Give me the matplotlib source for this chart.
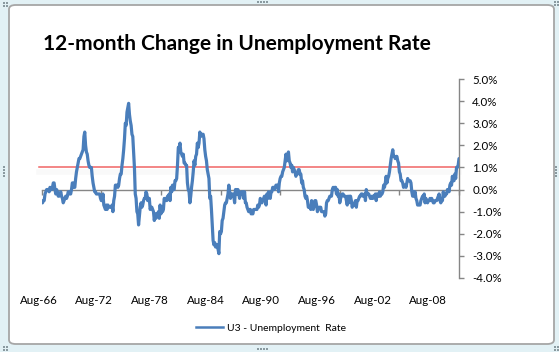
import matplotlib
matplotlib.use("Agg")
import matplotlib.pyplot as plt
import matplotlib.patheffects as pe
import matplotlib.transforms as mtransforms
from matplotlib.patches import FancyBboxPatch, Rectangle
from matplotlib.lines import Line2D
from matplotlib.ticker import FuncFormatter, MultipleLocator, FixedLocator, NullFormatter

# ---------------- data ----------------
title = "12-month Change in Unemployment Rate"
series_name = "U3 - Unemployment  Rate"
x_tick_labels = ["Aug-66", "Aug-72", "Aug-78", "Aug-84", "Aug-90", "Aug-96", "Aug-02", "Aug-08"]
months_per_label = 72          # one label every 6 years of monthly data
reference_level = 1.0          # red horizontal line (%)
y_ticks = [-4.0, -3.0, -2.0, -1.0, 0.0, 1.0, 2.0, 3.0, 4.0, 5.0]

# monthly 12-month change in U3 (percentage points), Aug-1966 .. Aug-2008
change_1966 = [-0.6, -0.6, -0.5, -0.5, -0.2]
change_1967 = [-0.1, 0.0, 0.0, 0.0, -0.1, 0.1, 0.0, 0.0, 0.1, 0.3, 0.3, 0.0]
change_1968 = [-0.2, 0.0, -0.1, -0.3, -0.3, -0.2, -0.1, -0.3, -0.4, -0.6, -0.5, -0.4]
change_1969 = [-0.3, -0.4, -0.3, -0.1, -0.1, -0.2, -0.2, 0.0, 0.3, 0.3, 0.1, 0.1]
change_1970 = [0.5, 0.8, 1.0, 1.2, 1.4, 1.4, 1.5, 1.6, 1.7, 1.8, 2.4, 2.6]
change_1971 = [2.0, 1.7, 1.6, 1.3, 1.1, 1.0, 1.0, 1.0, 0.6, 0.3, 0.1, -0.1]
change_1972 = [-0.1, -0.2, -0.2, -0.2, -0.2, -0.2, -0.4, -0.5, -0.5, -0.2, -0.7, -0.8]
change_1973 = [-0.9, -0.7, -0.9, -0.7, -0.8, -0.8, -0.8, -0.8, -0.7, -1.0, -0.5, -0.3]
change_1974 = [0.2, 0.2, 0.2, 0.1, 0.2, 0.5, 0.7, 0.7, 1.1, 1.4, 1.8, 2.3]
change_1975 = [3.0, 2.9, 3.5, 3.7, 3.9, 3.4, 3.1, 2.9, 2.5, 2.4, 1.7, 1.0]
change_1976 = [-0.2, -0.4, -1.0, -1.1, -1.6, -1.2, -0.8, -0.6, -0.8, -0.7, -0.5, -0.4]
change_1977 = [-0.4, -0.1, -0.2, -0.5, -0.4, -0.4, -0.9, -0.8, -0.8, -0.9, -1.0, -1.4]
change_1978 = [-1.1, -1.3, -1.1, -1.1, -1.0, -1.3, -0.7, -1.1, -0.8, -1.0, -0.9, -0.4]
change_1979 = [-0.5, -0.4, -0.5, -0.3, -0.4, -0.2, -0.5, 0.1, -0.1, 0.2, 0.0, 0.0]
change_1980 = [0.4, 0.4, 0.5, 1.1, 1.9, 1.9, 2.1, 1.7, 1.6, 1.5, 1.6, 1.2]
change_1981 = [1.2, 1.1, 1.1, 0.3, 0.0, -0.1, -0.6, -0.3, 0.1, 0.4, 0.8, 1.3]
change_1982 = [1.1, 1.5, 1.6, 2.1, 1.9, 2.1, 2.6, 2.4, 2.5, 2.5, 2.5, 2.3]
change_1983 = [1.8, 1.5, 1.3, 0.9, 0.7, 0.5, -0.4, -0.3, -0.9, -1.6, -2.3, -2.5]
change_1984 = [-2.4, -2.6, -2.5, -2.5, -2.7, -2.9, -1.9, -2.0, -1.9, -1.4, -1.3, -1.0]
change_1985 = [-0.7, -0.6, -0.6, -0.4, -0.2, 0.2, -0.1, -0.4, -0.2, -0.3, -0.2, -0.3]
change_1986 = [-0.6, 0.0, 0.0, -0.2, 0.0, -0.2, -0.4, -0.2, -0.1, -0.1, -0.1, -0.4]
change_1987 = [-0.1, -0.6, -0.6, -0.8, -0.9, -1.0, -0.9, -0.9, -1.1, -1.0, -1.1, -0.9]
change_1988 = [-0.9, -0.9, -0.9, -0.9, -0.7, -0.8, -0.7, -0.4, -0.5, -0.6, -0.5, -0.4]
change_1989 = [-0.3, -0.5, -0.7, -0.2, -0.4, -0.1, -0.2, -0.4, -0.1, -0.1, 0.1, 0.1]
change_1990 = [0.0, 0.1, 0.2, 0.2, 0.2, -0.1, 0.3, 0.5, 0.6, 0.6, 0.8, 0.9]
change_1991 = [1.0, 1.3, 1.6, 1.3, 1.5, 1.7, 1.3, 1.2, 1.0, 1.1, 0.8, 1.0]
change_1992 = [0.9, 0.8, 0.6, 0.7, 0.7, 0.9, 0.9, 0.7, 0.7, 0.3, 0.4, 0.1]
change_1993 = [0.0, -0.3, -0.4, -0.3, -0.5, -0.8, -0.8, -0.8, -0.9, -0.5, -0.8, -0.9]
change_1994 = [-0.7, -0.5, -0.5, -0.7, -1.0, -0.9, -0.8, -0.8, -0.8, -1.0, -1.0, -1.0]
change_1995 = [-1.0, -1.2, -1.1, -0.6, -0.5, -0.5, -0.4, -0.3, -0.3, -0.3, 0.0, 0.1]
change_1996 = [0.0, 0.1, 0.1, -0.2, 0.0, -0.3, -0.2, -0.6, -0.4, -0.3, -0.2, -0.2]
change_1997 = [-0.3, -0.3, -0.3, -0.5, -0.7, -0.3, -0.6, -0.3, -0.3, -0.5, -0.8, -0.7]
change_1998 = [-0.7, -0.6, -0.5, -0.8, -0.5, -0.5, -0.4, -0.3, -0.3, -0.2, -0.2, -0.3]
change_1999 = [-0.3, -0.2, -0.5, 0.0, -0.2, -0.2, -0.2, -0.3, -0.4, -0.4, -0.3, -0.4]
change_2000 = [-0.3, -0.3, -0.2, -0.5, -0.2, -0.3, -0.3, -0.1, -0.3, -0.2, -0.2, -0.1]
change_2001 = [0.2, 0.1, 0.3, 0.6, 0.3, 0.5, 0.6, 0.8, 1.1, 1.4, 1.6, 1.8]
change_2002 = [1.5, 1.5, 1.4, 1.5, 1.5, 1.3, 1.2, 0.8, 0.7, 0.4, 0.4, 0.3]
change_2003 = [0.1, 0.2, 0.2, 0.1, 0.3, 0.5, 0.4, 0.4, 0.4, 0.3, -0.1, -0.3]
change_2004 = [-0.1, -0.3, -0.1, -0.4, -0.5, -0.7, -0.7, -0.7, -0.7, -0.5, -0.4, -0.3]
change_2005 = [-0.4, -0.2, -0.6, -0.4, -0.5, -0.6, -0.5, -0.5, -0.4, -0.5, -0.4, -0.5]
change_2006 = [-0.6, -0.6, -0.5, -0.5, -0.5, -0.4, -0.3, -0.2, -0.5, -0.6, -0.5, -0.5]
change_2007 = [-0.1, -0.3, -0.3, -0.2, -0.2, 0.0, 0.0, -0.1, 0.2, 0.3, 0.2, 0.6]
change_2008 = [0.4, 0.4, 0.7, 0.5, 1.0, 1.0, 1.1, 1.4]

yearly_blocks = [change_1966, change_1967, change_1968, change_1969, change_1970,
                 change_1971, change_1972, change_1973, change_1974, change_1975,
                 change_1976, change_1977, change_1978, change_1979, change_1980,
                 change_1981, change_1982, change_1983, change_1984, change_1985,
                 change_1986, change_1987, change_1988, change_1989, change_1990,
                 change_1991, change_1992, change_1993, change_1994, change_1995,
                 change_1996, change_1997, change_1998, change_1999, change_2000,
                 change_2001, change_2002, change_2003, change_2004, change_2005,
                 change_2006, change_2007, change_2008]
change_pct = [v for block in yearly_blocks for v in block]
month_index = list(range(len(change_pct)))

# ---------------- style / layout ----------------
W, H = 559, 352
FONT = "Lato"
plt.rcParams["font.family"] = [FONT, "DejaVu Sans"]
BLUE = "#4A7EBB"
RED = "#F06464"
GRAY = "#868686"

fig = plt.figure(figsize=(W / 100, H / 100), dpi=100)
fig.patch.set_facecolor("#e2f1f5")

def fx(x):
    return x / W

def fy(y):
    return 1 - y / H

# chart frame (Excel-style chart object)
frame = FancyBboxPatch((fx(9), fy(344)), fx(554) - fx(9), fy(5) - fy(344),
                       boxstyle="round,pad=0,rounding_size=0.012",
                       transform=fig.transFigure, facecolor="white",
                       edgecolor="#a6a6a6", linewidth=1.3, zorder=-10)
fig.patches.append(frame)

# resize handles
def dots(x0, y0, n, horizontal=True):
    for k in range(n):
        xx = x0 + (3 * k if horizontal else 0)
        yy = y0 + (0 if horizontal else 3 * k)
        fig.patches.append(Rectangle((fx(xx), fy(yy + 2)), 2 / W, 2 / H,
                                     transform=fig.transFigure, facecolor="#8a9aa0",
                                     edgecolor="none", zorder=-9))

dots(257, 1, 4, True)
dots(257, 348, 4, True)
dots(3, 166, 4, False)
dots(555, 166, 4, False)
for (cx, cy) in [(3, 2), (554, 1), (3, 346), (554, 346)]:
    dots(cx, cy, 2, True)
    dots(cx, cy + 3, 2, True)

# plot area
x_left, x_right, y_top, y_bot = 41.7, 459.0, 79.0, 278.0
ax = fig.add_axes([fx(x_left), fy(y_bot), fx(x_right) - fx(x_left), fy(y_top) - fy(y_bot)])
ax.set_zorder(5)
ax.set_facecolor("none")
ax.set_xlim(0, len(change_pct) - 1)
ax.set_ylim(y_ticks[0], y_ticks[-1])

# reference line with soft shadow
ax.axhline(reference_level, xmin=-0.007, xmax=1.0, color=RED, linewidth=1.1, zorder=2,
           clip_on=False,
           path_effects=[pe.SimpleLineShadow(offset=(0, -3.5), shadow_color="#000000", alpha=0.025, linewidth=4),
                         pe.Normal()])

ax.plot(month_index, change_pct, color=BLUE, linewidth=2.3, solid_joinstyle="round",
        solid_capstyle="round", zorder=3)

# spines
for side in ["left", "top"]:
    ax.spines[side].set_visible(False)
ax.spines["bottom"].set_position(("data", 0))
ax.spines["bottom"].set_color(GRAY)
ax.spines["bottom"].set_linewidth(1.0)
ax.spines["right"].set_color(GRAY)
ax.spines["right"].set_linewidth(1.0)

ax.yaxis.tick_right()
ax.yaxis.set_major_locator(FixedLocator(y_ticks))
ax.yaxis.set_major_formatter(FuncFormatter(lambda v, p: f"{v:.1f}%"))
ax.tick_params(axis="y", direction="out", length=3.5, width=1.0, color=GRAY,
               labelsize=8.3, labelcolor="black", pad=6)

ax.xaxis.set_major_locator(MultipleLocator(months_per_label))
ax.xaxis.set_major_formatter(NullFormatter())
ax.tick_params(axis="x", direction="out", length=3.5, width=1.0, color=GRAY)

# category labels along the bottom of the plot area (Excel places them slightly compressed)
label_offset = -3.9
label_step = 67.27
label_trans = mtransforms.blended_transform_factory(ax.transData, ax.transAxes)
label_dy = -(300 - y_bot) / (y_bot - y_top)
for i, lab in enumerate(x_tick_labels):
    ax.text(label_offset + label_step * i, label_dy, lab, transform=label_trans,
            ha="center", va="center", fontsize=8.3, clip_on=False)

# title
fig.text(fx(43), fy(50), title, fontsize=15.0, fontweight="bold", ha="left",
         va="baseline", color="black")

# legend
handle = Line2D([], [], color=BLUE, linewidth=1.8)
fig.legend([handle], [series_name], loc="center", bbox_to_anchor=(fx(271), fy(328)),
           frameon=False, fontsize=7.5, handlelength=2.6, handletextpad=0.3)

fig.savefig("out.png", dpi=100, facecolor=fig.get_facecolor())
